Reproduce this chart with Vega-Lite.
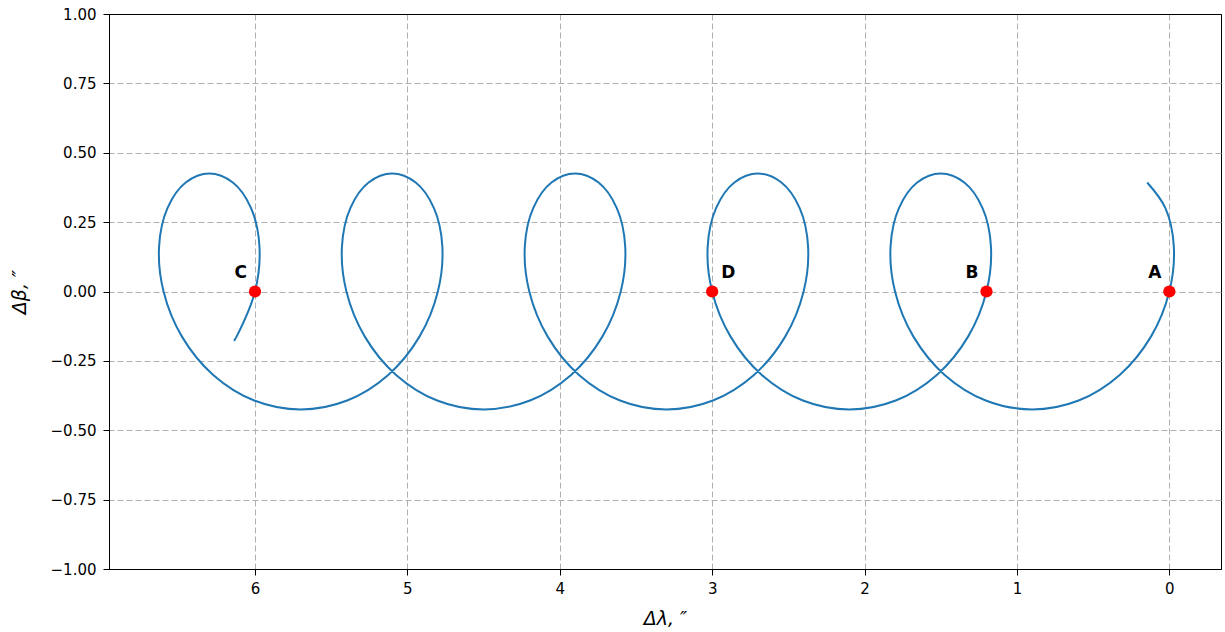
{
  "$schema": "https://vega.github.io/schema/vega-lite/v6.json",
  "width": 1112,
  "height": 555,
  "autosize": {"type": "none"},
  "padding": {"left": 109, "top": 14, "right": 4, "bottom": 63},
  "config": {
    "view": {"stroke": "black", "strokeWidth": 1},
    "font": "DejaVu Sans",
    "axis": {
      "grid": true,
      "gridWidth": 1,
      "domainColor": "black",
      "tickColor": "black",
      "tickSize": 6,
      "labelColor": "black",
      "labelFontSize": 15,
      "labelFont": "DejaVu Sans",
      "titleColor": "black",
      "titleFont": "DejaVu Sans",
      "titleFontSize": 19,
      "titleFontWeight": "normal",
      "titleFontStyle": "italic"
    }
  },
  "datasets": {
    "curve": [
      {"t": 1, "x": 0.1454, "y": 0.3927},
      {"t": 2, "x": 0.0257, "y": 0.3005},
      {"t": 3, "x": -0.0293, "y": 0.1626},
      {"t": 4, "x": 0.0, "y": 0.0},
      {"t": 5, "x": 0.1207, "y": -0.1626},
      {"t": 6, "x": 0.3257, "y": -0.3005},
      {"t": 7, "x": 0.5954, "y": -0.3927},
      {"t": 8, "x": 0.9, "y": -0.425},
      {"t": 9, "x": 1.2046, "y": -0.3927},
      {"t": 10, "x": 1.4743, "y": -0.3005},
      {"t": 11, "x": 1.6793, "y": -0.1626},
      {"t": 12, "x": 1.8, "y": 0.0},
      {"t": 13, "x": 1.8293, "y": 0.1626},
      {"t": 14, "x": 1.7743, "y": 0.3005},
      {"t": 15, "x": 1.6546, "y": 0.3927},
      {"t": 16, "x": 1.5, "y": 0.425},
      {"t": 17, "x": 1.3454, "y": 0.3927},
      {"t": 18, "x": 1.2257, "y": 0.3005},
      {"t": 19, "x": 1.1707, "y": 0.1626},
      {"t": 20, "x": 1.2, "y": 0.0},
      {"t": 21, "x": 1.3207, "y": -0.1626},
      {"t": 22, "x": 1.5257, "y": -0.3005},
      {"t": 23, "x": 1.7954, "y": -0.3927},
      {"t": 24, "x": 2.1, "y": -0.425},
      {"t": 25, "x": 2.4046, "y": -0.3927},
      {"t": 26, "x": 2.6743, "y": -0.3005},
      {"t": 27, "x": 2.8793, "y": -0.1626},
      {"t": 28, "x": 3.0, "y": 0.0},
      {"t": 29, "x": 3.0293, "y": 0.1626},
      {"t": 30, "x": 2.9743, "y": 0.3005},
      {"t": 31, "x": 2.8546, "y": 0.3927},
      {"t": 32, "x": 2.7, "y": 0.425},
      {"t": 33, "x": 2.5454, "y": 0.3927},
      {"t": 34, "x": 2.4257, "y": 0.3005},
      {"t": 35, "x": 2.3707, "y": 0.1626},
      {"t": 36, "x": 2.4, "y": 0.0},
      {"t": 37, "x": 2.5207, "y": -0.1626},
      {"t": 38, "x": 2.7257, "y": -0.3005},
      {"t": 39, "x": 2.9954, "y": -0.3927},
      {"t": 40, "x": 3.3, "y": -0.425},
      {"t": 41, "x": 3.6046, "y": -0.3927},
      {"t": 42, "x": 3.8743, "y": -0.3005},
      {"t": 43, "x": 4.0793, "y": -0.1626},
      {"t": 44, "x": 4.2, "y": 0.0},
      {"t": 45, "x": 4.2293, "y": 0.1626},
      {"t": 46, "x": 4.1743, "y": 0.3005},
      {"t": 47, "x": 4.0546, "y": 0.3927},
      {"t": 48, "x": 3.9, "y": 0.425},
      {"t": 49, "x": 3.7454, "y": 0.3927},
      {"t": 50, "x": 3.6257, "y": 0.3005},
      {"t": 51, "x": 3.5707, "y": 0.1626},
      {"t": 52, "x": 3.6, "y": 0.0},
      {"t": 53, "x": 3.7207, "y": -0.1626},
      {"t": 54, "x": 3.9257, "y": -0.3005},
      {"t": 55, "x": 4.1954, "y": -0.3927},
      {"t": 56, "x": 4.5, "y": -0.425},
      {"t": 57, "x": 4.8046, "y": -0.3927},
      {"t": 58, "x": 5.0743, "y": -0.3005},
      {"t": 59, "x": 5.2793, "y": -0.1626},
      {"t": 60, "x": 5.4, "y": 0.0},
      {"t": 61, "x": 5.4293, "y": 0.1626},
      {"t": 62, "x": 5.3743, "y": 0.3005},
      {"t": 63, "x": 5.2546, "y": 0.3927},
      {"t": 64, "x": 5.1, "y": 0.425},
      {"t": 65, "x": 4.9454, "y": 0.3927},
      {"t": 66, "x": 4.8257, "y": 0.3005},
      {"t": 67, "x": 4.7707, "y": 0.1626},
      {"t": 68, "x": 4.8, "y": 0.0},
      {"t": 69, "x": 4.9207, "y": -0.1626},
      {"t": 70, "x": 5.1257, "y": -0.3005},
      {"t": 71, "x": 5.3954, "y": -0.3927},
      {"t": 72, "x": 5.7, "y": -0.425},
      {"t": 73, "x": 6.0046, "y": -0.3927},
      {"t": 74, "x": 6.2743, "y": -0.3005},
      {"t": 75, "x": 6.4793, "y": -0.1626},
      {"t": 76, "x": 6.6, "y": 0.0},
      {"t": 77, "x": 6.6293, "y": 0.1626},
      {"t": 78, "x": 6.5743, "y": 0.3005},
      {"t": 79, "x": 6.4546, "y": 0.3927},
      {"t": 80, "x": 6.3, "y": 0.425},
      {"t": 81, "x": 6.1454, "y": 0.3927},
      {"t": 82, "x": 6.0257, "y": 0.3005},
      {"t": 83, "x": 5.9707, "y": 0.1626},
      {"t": 84, "x": 6.0, "y": 0.0},
      {"t": 85, "x": 6.1207, "y": -0.1626},
      {"t": 85.1, "x": 6.1376, "y": -0.178}
    ],
    "pts": [
      {"label": "A", "x": 0.0, "y": 0.0},
      {"label": "B", "x": 1.2, "y": 0.0},
      {"label": "D", "x": 3.0, "y": 0.0},
      {"label": "C", "x": 6.0, "y": 0.0}
    ]
  },
  "layer": [
    {
      "data": {"name": "curve"},
      "mark": {"type": "line", "interpolate": "catmull-rom", "color": "#1f77b4", "strokeWidth": 2},
      "encoding": {
        "x": {
          "field": "x", "type": "quantitative",
          "scale": {"domain": [-0.339, 6.958], "reverse": true, "nice": false, "zero": false},
          "axis": {"title": "Δλ, ″", "values": [0, 1, 2, 3, 4, 5, 6], "format": "d", "labelPadding": 6, "titlePadding": 13,
                   "gridColor": "#b0b0b0", "gridDash": [6, 3]}
        },
        "y": {
          "field": "y", "type": "quantitative",
          "scale": {"domain": [-1, 1], "nice": false, "zero": false},
          "axis": {"title": "Δβ, ″", "values": [-1, -0.75, -0.5, -0.25, 0, 0.25, 0.5, 0.75, 1], "format": ".2f", "labelPadding": 7, "titlePadding": 21,
                   "gridColor": {"condition": {"test": "datum.value == 1 || datum.value == -1", "value": "black"}, "value": "#b0b0b0"},
                   "gridDash": {"condition": {"test": "datum.value == 1 || datum.value == -1", "value": []}, "value": [6, 3]}}
        },
        "order": {"field": "t", "type": "quantitative"}
      }
    },
    {
      "mark": {"type": "rule", "color": "black", "strokeWidth": 0.9, "strokeDash": [4, 2]},
      "encoding": {"y": {"datum": 0, "type": "quantitative"}}
    },
    {
      "mark": {"type": "rule", "color": "black", "strokeWidth": 0.9, "strokeDash": [4, 2]},
      "encoding": {"x": {"datum": 0, "type": "quantitative"}}
    },
    {
      "data": {"name": "pts"},
      "mark": {"type": "point", "shape": "circle", "filled": true, "size": 150, "color": "#ff0000", "opacity": 1},
      "encoding": {
        "x": {"field": "x", "type": "quantitative"},
        "y": {"field": "y", "type": "quantitative"}
      }
    },
    {
      "data": {"name": "pts"},
      "transform": [{"filter": "datum.label != 'D'"}],
      "mark": {"type": "text", "align": "right", "baseline": "alphabetic", "dx": -8, "dy": -14, "fontSize": 17, "fontWeight": "bold", "font": "DejaVu Sans", "color": "black"},
      "encoding": {
        "x": {"field": "x", "type": "quantitative"},
        "y": {"field": "y", "type": "quantitative"},
        "text": {"field": "label"}
      }
    },
    {
      "data": {"name": "pts"},
      "transform": [{"filter": "datum.label == 'D'"}],
      "mark": {"type": "text", "align": "left", "baseline": "alphabetic", "dx": 9, "dy": -14, "fontSize": 17, "fontWeight": "bold", "font": "DejaVu Sans", "color": "black"},
      "encoding": {
        "x": {"field": "x", "type": "quantitative"},
        "y": {"field": "y", "type": "quantitative"},
        "text": {"field": "label"}
      }
    }
  ]
}
